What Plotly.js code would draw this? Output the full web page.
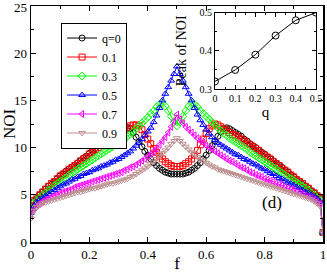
<!DOCTYPE html>
<html><head><meta charset="utf-8">
<script src="https://cdn.plot.ly/plotly-3.0.1.min.js"></script>
<style>html,body{margin:0;padding:0;background:#fff}#c{width:327px;height:273px}</style>
</head><body><div id="c"></div>
<script>
var f = [];
for (var i = 0; i <= 100; i++) f.push(i / 100);
var q0 = [3.6,4.3,4.6,5.0,5.3,5.6,5.9,6.1,6.4,6.7,7.0,7.2,7.5,7.7,7.9,8.1,8.4,8.6,8.9,9.1,9.4,9.6,9.9,10.2,10.5,10.7,10.9,11.2,11.4,11.6,11.8,11.9,12.1,12.1,12.0,11.6,11.1,10.6,10.1,9.6,9.2,8.8,8.4,8.1,7.8,7.6,7.4,7.3,7.2,7.2,7.2,7.2,7.2,7.3,7.4,7.6,7.8,8.1,8.4,8.8,9.2,9.7,10.2,10.7,11.2,11.7,12.0,12.1,12.0,11.8,11.6,11.4,11.2,10.9,10.7,10.4,10.2,10.0,9.7,9.5,9.3,9.0,8.8,8.6,8.3,8.1,7.9,7.6,7.4,7.1,6.9,6.6,6.4,6.1,5.9,5.7,5.4,5.2,4.9,4.6,1.0];
var q1 = [3.8,4.4,4.7,5.0,5.3,5.6,5.9,6.2,6.4,6.7,7.0,7.2,7.4,7.7,7.9,8.1,8.3,8.6,8.8,9.0,9.3,9.5,9.8,10.0,10.3,10.5,10.7,11.0,11.2,11.4,11.6,11.8,12.0,12.1,12.3,12.4,12.4,12.3,11.9,11.4,10.9,10.4,9.9,9.5,9.1,8.8,8.5,8.3,8.1,8.0,8.0,8.0,8.1,8.3,8.5,8.8,9.2,9.7,10.3,10.9,11.5,12.0,12.3,12.5,12.4,12.2,12.0,11.8,11.6,11.4,11.3,11.1,10.9,10.7,10.5,10.3,10.1,9.9,9.7,9.4,9.2,9.0,8.8,8.5,8.3,8.1,7.8,7.6,7.4,7.1,6.9,6.6,6.4,6.2,5.9,5.7,5.4,5.2,4.9,4.6,1.0];
var q3 = [3.4,4.1,4.4,4.7,5.0,5.2,5.5,5.7,6.0,6.2,6.4,6.6,6.8,7.1,7.3,7.5,7.7,7.9,8.1,8.3,8.5,8.7,8.9,9.1,9.3,9.5,9.7,9.9,10.1,10.3,10.5,10.7,10.9,11.2,11.4,11.7,12.0,12.3,12.6,12.9,13.2,13.6,13.9,14.3,14.6,14.7,14.4,13.9,13.3,12.7,12.3,12.7,13.3,13.9,14.4,14.7,14.6,14.3,13.9,13.6,13.3,13.0,12.7,12.4,12.1,11.8,11.5,11.3,11.0,10.8,10.6,10.4,10.2,10.0,9.8,9.5,9.3,9.1,8.9,8.7,8.5,8.3,8.1,7.9,7.7,7.5,7.3,7.1,6.9,6.7,6.5,6.3,6.1,5.9,5.7,5.5,5.2,5.0,4.7,4.4,1.0];
var q5 = [3.1,3.8,4.2,4.5,4.7,4.9,5.1,5.3,5.5,5.7,5.9,6.1,6.2,6.4,6.6,6.7,6.9,7.0,7.2,7.3,7.4,7.6,7.7,7.8,8.0,8.1,8.2,8.4,8.5,8.7,8.8,9.0,9.2,9.4,9.6,9.9,10.2,10.5,10.9,11.3,11.7,12.1,12.7,13.4,14.2,15.0,15.7,16.4,17.1,17.8,18.6,17.8,17.1,16.4,15.7,15.0,14.2,13.5,12.9,12.4,11.9,11.5,11.1,10.8,10.5,10.3,10.1,9.9,9.7,9.5,9.3,9.2,9.0,8.8,8.7,8.5,8.3,8.2,8.0,7.8,7.7,7.5,7.3,7.2,7.0,6.8,6.7,6.5,6.3,6.2,6.0,5.8,5.7,5.5,5.3,5.2,5.0,4.8,4.6,4.3,1.0];
var q7 = [2.8,3.5,3.9,4.1,4.3,4.5,4.6,4.8,4.9,5.0,5.2,5.3,5.4,5.5,5.6,5.8,5.9,6.0,6.1,6.2,6.3,6.4,6.5,6.6,6.7,6.8,6.9,7.0,7.1,7.2,7.3,7.4,7.6,7.7,7.9,8.0,8.2,8.4,8.6,8.8,9.1,9.3,9.6,9.9,10.3,10.7,11.1,11.6,12.2,12.8,13.5,13.0,12.6,12.2,11.9,11.6,11.3,11.0,10.7,10.5,10.2,10.0,9.8,9.6,9.4,9.2,9.0,8.8,8.6,8.5,8.3,8.1,7.9,7.8,7.6,7.4,7.3,7.1,7.0,6.9,6.7,6.6,6.5,6.4,6.2,6.1,6.0,5.8,5.7,5.6,5.5,5.3,5.2,5.1,4.9,4.8,4.7,4.5,4.3,4.0,1.0];
var q9 = [2.5,3.3,3.7,3.9,4.1,4.2,4.3,4.4,4.5,4.6,4.7,4.8,4.9,5.0,5.1,5.2,5.3,5.3,5.4,5.5,5.6,5.7,5.7,5.8,5.9,6.0,6.1,6.2,6.2,6.3,6.4,6.5,6.6,6.7,6.9,7.0,7.2,7.4,7.6,7.8,8.0,8.3,8.5,8.8,9.1,9.4,9.7,10.0,10.4,10.7,11.0,10.7,10.4,10.1,9.8,9.5,9.3,9.0,8.8,8.6,8.4,8.2,8.0,7.9,7.7,7.6,7.5,7.4,7.3,7.2,7.1,7.0,6.9,6.8,6.7,6.6,6.5,6.4,6.3,6.2,6.1,6.0,5.9,5.8,5.7,5.6,5.5,5.4,5.3,5.2,5.1,5.0,4.9,4.8,4.7,4.6,4.5,4.3,4.1,3.8,1.0];
var seriesNames = ["q=0","0.1","0.3","0.5","0.7","0.9"];
var yTickVals = [0, 5, 10, 15, 20];
var topYLabel = "25";
var insetQ = [0, 0.1, 0.2, 0.3, 0.4, 0.5];
var insetPeak = [0.32, 0.35, 0.39, 0.44, 0.48, 0.50];

var series = [q0, q1, q3, q5, q7, q9];
var colors = ["#000000","#ff0000","#00ff00","#0000ff","#ff00ff","#bc8f8f"];
var symbols = ["circle-open","square-open","diamond-open","triangle-up-open","triangle-left-open","triangle-down-open"];
var FONT = "Liberation Serif";
var traces = series.map(function(s, k){
  return {x: f, y: s, name: seriesNames[k], type: "scatter", mode: "lines+markers",
    line: {color: colors[k], width: 1},
    marker: {symbol: symbols[k], size: 6, color: colors[k], line: {color: colors[k], width: 1}},
    xaxis: "x", yaxis: "y"};
});
traces.push({x: insetQ, y: insetPeak, type: "scatter", mode: "lines+markers", showlegend: false,
  line: {color: "#000", width: 1},
  marker: {symbol: "circle-open", size: 7, color: "#000", line: {color: "#000", width: 1}},
  xaxis: "x2", yaxis: "y2"});

var axBase = {showgrid: false, zeroline: false, showline: true, linecolor: "#000", linewidth: 1.5,
  mirror: "allticks", ticks: "inside", tickcolor: "#000", tickwidth: 1, ticklen: 5,
  tickfont: {family: FONT, size: 13, color: "#000"}};
var layout = {
  width: 327, height: 273,
  margin: {l: 31, r: 4, t: 6, b: 31},
  paper_bgcolor: "#fff", plot_bgcolor: "#fff",
  font: {family: FONT, color: "#000"},
  showlegend: true,
  legend: {x: 0.103, y: 0.93, xanchor: "left", yanchor: "top", bordercolor: "#000", borderwidth: 1,
    bgcolor: "#fff", font: {family: FONT, size: 12, color: "#000"}, tracegroupgap: 0, itemwidth: 30},
  xaxis: Object.assign({}, axBase, {range: [0, 1.0001], tickvals: [0, 0.2, 0.4, 0.6, 0.8, 1], ticktext: ["0","0.2","0.4","0.6","0.8","1"],
    minor: {tickvals: [0.1, 0.3, 0.5, 0.7, 0.9], ticks: "inside", ticklen: 3, tickcolor: "#000"},
    title: {text: "f", font: {family: FONT, size: 17, color: "#000"}, standoff: 6}}),
  yaxis: Object.assign({}, axBase, {range: [0, 25], tickvals: yTickVals,
    minor: {dtick: 2.5, ticks: "inside", ticklen: 3, tickcolor: "#000"},
    title: {text: "NOI", font: {family: FONT, size: 17, color: "#000"}, standoff: 4}}),
  xaxis2: Object.assign({}, axBase, {domain: [0.630, 0.976], anchor: "y2", range: [0, 0.5001], dtick: 0.1, tick0: 0,
    linewidth: 1, ticklen: 4, tickfont: {family: FONT, size: 10, color: "#000"},
    minor: {dtick: 0.05, ticks: "inside", ticklen: 2, tickcolor: "#000"},
    title: {text: "q", font: {family: FONT, size: 15, color: "#000"}, standoff: 2}}),
  yaxis2: Object.assign({}, axBase, {domain: [0.648, 0.972], anchor: "x2", range: [0.3, 0.5001], dtick: 0.1, tick0: 0.3,
    linewidth: 1, ticklen: 4, tickfont: {family: FONT, size: 10, color: "#000"},
    minor: {dtick: 0.05, ticks: "inside", ticklen: 2, tickcolor: "#000"}}),
  annotations: [
    {x: 0.825, y: 4.2, xref: "x", yref: "y", text: "(d)", showarrow: false,
      font: {family: FONT, size: 17, color: "#000"}},
    {x: 0.515, y: 0.81, xref: "paper", yref: "paper", xanchor: "center", yanchor: "middle",
      text: "Peak of NOI", textangle: -90, showarrow: false,
      font: {family: FONT, size: 14, color: "#000"}},
    {x: -0.008, y: 0.995, xref: "paper", yref: "paper", xanchor: "right", yanchor: "middle",
      text: topYLabel, showarrow: false, font: {family: FONT, size: 13, color: "#000"}}
  ]
};
Plotly.newPlot("c", traces, layout, {displayModeBar: false, staticPlot: true});
</script></body></html>
